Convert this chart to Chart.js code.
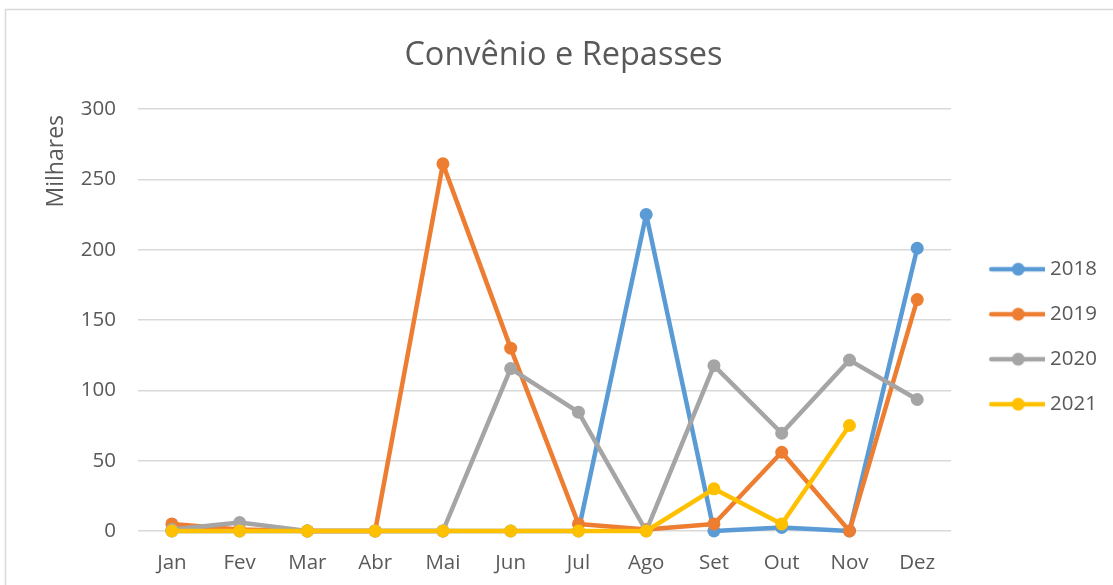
<!DOCTYPE html>
<html>
<head>
<meta charset="utf-8">
<script src="https://cdn.jsdelivr.net/npm/chart.js@4.4.1/dist/chart.umd.min.js"></script>
<style>
  html, body { margin: 0; padding: 0; background: #fff; }
  #wrap { width: 1113px; height: 585px; }
</style>
</head>
<body>
<div id="wrap"><canvas id="myChart" width="1113" height="585"></canvas></div>
<script>
var months = ["Jan", "Fev", "Mar", "Abr", "Mai", "Jun", "Jul", "Ago", "Set", "Out", "Nov", "Dez"];
var yearLabels = ["2018", "2019", "2020", "2021"];

// valores em milhares
var v2018 = [0, 0, 0, 0, 0, 0, 0, 225, 0, 2.5, 0, 201];
var v2019 = [5, 1, 0, 0, 261, 130, 5, 1, 5, 56, 0, 164.5];
var v2020 = [1, 6, 0, 0, 0, 115.5, 84.5, 0, 117.5, 69.5, 121.5, 93.5];
var v2021 = [0, 0, 0, 0, 0, 0, 0, 0, 30, 5, 75, null];

var yTicks = [0, 50, 100, 150, 200, 250, 300];

var colors = ["#5B9BD5", "#ED7D31", "#A5A5A5", "#FFC000"];
var textColor = "#595959";
var fontFamily = "'Open Sans', sans-serif";

// legend marker: line with a dot, drawn on a small canvas
function legendMarker(color) {
  var c = document.createElement("canvas");
  c.width = 75;
  c.height = 16;
  var g = c.getContext("2d");
  g.strokeStyle = color;
  g.lineWidth = 4.5;
  g.lineCap = "round";
  g.beginPath();
  g.moveTo(21, 8);
  g.lineTo(75, 8);
  g.stroke();
  g.fillStyle = color;
  g.beginPath();
  g.arc(48, 8, 6.5, 0, Math.PI * 2);
  g.fill();
  return c;
}

var series = [v2018, v2019, v2020, v2021];
var datasets = series.map(function (vals, i) {
  return {
    label: yearLabels[i],
    data: vals,
    borderColor: colors[i],
    backgroundColor: colors[i],
    pointBackgroundColor: colors[i],
    pointBorderColor: colors[i],
    pointStyle: "circle",
    legendImage: legendMarker(colors[i]),
    borderWidth: 4.5,
    borderJoinStyle: "round",
    borderCapStyle: "round",
    pointRadius: 6.5,
    pointHoverRadius: 6.5,
    pointBorderWidth: 0,
    tension: 0,
    clip: false,
    order: series.length - i
  };
});

var borderBox = {
  id: "borderBox",
  beforeDraw: function (chart) {
    var c = chart.ctx;
    c.save();
    c.fillStyle = "#fff";
    c.fillRect(0, 0, chart.width, chart.height);
    c.strokeStyle = "#d9d9d9";
    c.lineWidth = 1.5;
    c.strokeRect(5.5, 9.5, 1200, 700);
    c.restore();
  }
};

new Chart("myChart", {
  type: "line",
  data: {
    labels: months,
    datasets: datasets
  },
  plugins: [borderBox],
  options: {
    responsive: false,
    animation: false,
    events: [],
    layout: { padding: { left: 20, right: 6, top: 0, bottom: 0 } },
    plugins: {
      title: {
        display: true,
        text: "Convênio e Repasses",
        color: textColor,
        font: { family: fontFamily, size: 32.5, weight: "normal" },
        padding: { top: 36, bottom: 34 }
      },
      legend: {
        position: "right",
        fullSize: false,
        title: { display: true, text: "", padding: { top: 0, bottom: 19 }, font: { size: 12 } },
        labels: {
          color: textColor,
          font: { family: fontFamily, size: 20.5 },
          padding: 24.5,
          usePointStyle: true,
          pointStyleWidth: 64.25,
          sort: function (a, b) { return a.datasetIndex - b.datasetIndex; },
          generateLabels: function (chart) {
            var items = Chart.defaults.plugins.legend.labels.generateLabels(chart);
            items.forEach(function (it) {
              it.pointStyle = chart.data.datasets[it.datasetIndex].legendImage;
            });
            return items;
          }
        }
      },
      tooltip: { enabled: false }
    },
    scales: {
      x: {
        offset: true,
        grid: { display: false, drawTicks: false },
        border: { display: false },
        ticks: { color: textColor, font: { family: fontFamily, size: 20.5 }, padding: 20, maxRotation: 0 },
        afterFit: function (scale) { scale.height = 54; }
      },
      y: {
        min: 0,
        max: 300,
        afterBuildTicks: function (scale) {
          scale.ticks = yTicks.map(function (v) { return { value: v }; });
        },
        grid: { color: "#d9d9d9", lineWidth: 1.5, drawTicks: false },
        border: { display: false },
        ticks: { color: textColor, font: { family: fontFamily, size: 20.5 }, padding: 22 },
        title: {
          display: true,
          text: "Milhares ",
          align: "end",
          color: textColor,
          font: { family: fontFamily, size: 23 },
          padding: { top: 23, bottom: 0 }
        },
        afterFit: function (scale) { scale.width = 118; }
      }
    }
  }
});
</script>
</body>
</html>
